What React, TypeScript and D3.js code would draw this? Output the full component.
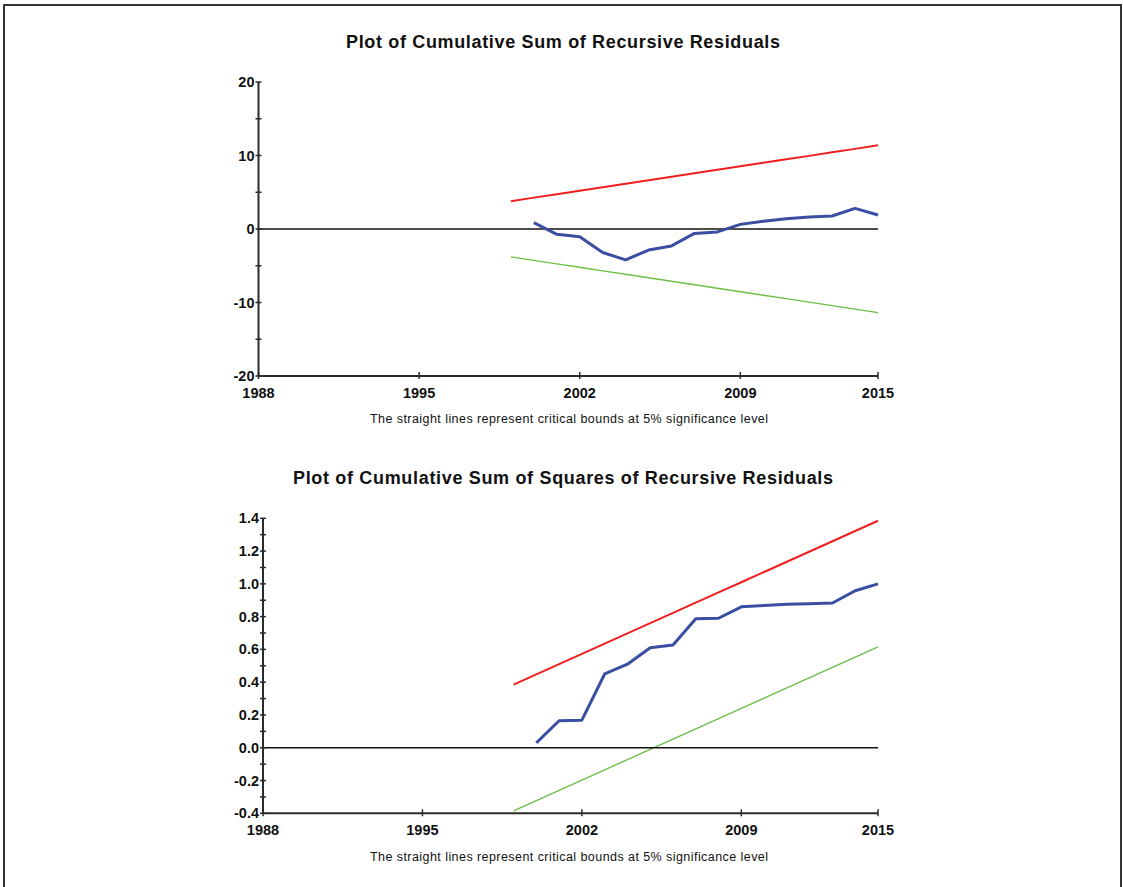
import React from "react";
import * as d3 from "d3";

// Years covered by the recursive estimates
const years = [1999, 2000, 2001, 2002, 2003, 2004, 2005, 2006, 2007, 2008, 2009, 2010, 2011, 2012, 2013, 2014, 2015];
const residualYears = years.slice(1);

// CUSUM statistic and its 5% bounds
const cusum = [0.86, -0.73, -1.04, -3.2, -4.2, -2.86, -2.3, -0.6, -0.4, 0.63, 1.04, 1.4, 1.63, 1.77, 2.8, 1.9];
const cusumUpper = [3.79, 4.27, 4.74, 5.21, 5.69, 6.16, 6.64, 7.11, 7.58, 8.06, 8.53, 9.01, 9.48, 9.95, 10.43, 10.9, 11.38];
const cusumLower = [-3.79, -4.27, -4.74, -5.21, -5.69, -6.16, -6.64, -7.11, -7.58, -8.06, -8.53, -9.01, -9.48, -9.95, -10.43, -10.9, -11.38];

// CUSUM of squares statistic and its 5% bounds
const cusumSq = [0.03, 0.165, 0.168, 0.45, 0.51, 0.61, 0.627, 0.787, 0.79, 0.86, 0.868, 0.875, 0.879, 0.883, 0.958, 1.0];
const cusumSqUpper = [0.385, 0.4475, 0.51, 0.5725, 0.635, 0.6975, 0.76, 0.8225, 0.885, 0.9475, 1.01, 1.0725, 1.135, 1.1975, 1.26, 1.3225, 1.385];
const cusumSqLower = [-0.385, -0.3225, -0.26, -0.1975, -0.135, -0.0725, -0.01, 0.0525, 0.115, 0.1775, 0.24, 0.3025, 0.365, 0.4275, 0.49, 0.5525, 0.615];

// Axis ticks
const xTicks = [1988, 1995, 2002, 2009, 2015];
const cusumTicks = [-20, -10, 0, 10, 20];
const cusumMinor = [-20, -15, -10, -5, 0, 5, 10, 15, 20];
const sqTicks = [-0.4, -0.2, 0.0, 0.2, 0.4, 0.6, 0.8, 1.0, 1.2, 1.4];
const sqMinor = [-0.4, -0.3, -0.2, -0.1, 0.0, 0.1, 0.2, 0.3, 0.4, 0.5, 0.6, 0.7, 0.8, 0.9, 1.0, 1.1, 1.2, 1.3, 1.4];

const FONT = "Arial, 'Liberation Sans', Helvetica, sans-serif";
const AXIS = "#2b2b2b";
const BLUE = "#3a4ea2";
const RED = "#f01f1f";
const GREEN = "#6cc046";

// plain hyphen for negatives, as in the printed output
const hyphen = (s: string) => s.replace("\u2212", "-");

type PanelProps = {
  title: string;
  titleY: number;
  titleWidth: number;
  noteY: number;
  x: d3.ScaleLinear<number, number>;
  y: d3.ScaleLinear<number, number>;
  yTicks: number[];
  yMinor: number[];
  fmt: (v: number) => string;
  stat: number[];
  upper: number[];
  lower: number[];
};

function Panel({ title, titleY, titleWidth, noteY, x, y, yTicks, yMinor, fmt, stat, upper, lower }: PanelProps) {
  const line = d3
    .line<[number, number]>()
    .x((d) => x(d[0]))
    .y((d) => y(d[1]));
  const [x0, x1] = x.range();
  const [yb, yt] = y.range();
  const pair = (xs: number[], vs: number[]) => xs.map((t, i) => [t, vs[i]] as [number, number]);
  return (
    <g>
      <text
        x={563}
        y={titleY}
        textAnchor="middle"
        fontFamily={FONT}
        fontWeight="bold"
        fontSize={18}
        fill="#111"
        textLength={titleWidth}
        lengthAdjust="spacing"
      >
        {title}
      </text>
      {/* critical bounds */}
      <path d={line(pair(years, upper)) || ""} fill="none" stroke={RED} strokeWidth={2} />
      <path d={line(pair(years, lower)) || ""} fill="none" stroke={GREEN} strokeWidth={1.4} />
      {/* zero reference */}
      <line x1={x0} x2={x1} y1={y(0)} y2={y(0)} stroke="#111" strokeWidth={1.6} />
      {/* statistic */}
      <path d={line(pair(residualYears, stat)) || ""} fill="none" stroke={BLUE} strokeWidth={3} strokeLinejoin="round" />
      {/* axes */}
      <line x1={x0} x2={x0} y1={yb} y2={yt} stroke={AXIS} strokeWidth={2} />
      <line x1={x0} x2={x1} y1={yb} y2={yb} stroke={AXIS} strokeWidth={2} />
      {yMinor.map((v) => (
        <line key={"ym" + v} x1={x0 - 3} x2={x0 + 3} y1={y(v)} y2={y(v)} stroke={AXIS} strokeWidth={1.5} />
      ))}
      {yTicks.map((v) => (
        <text key={"yt" + v} x={x0 - 4} y={y(v) + 5} textAnchor="end" fontFamily={FONT} fontWeight="bold" fontSize={14.5} fill="#111">
          {hyphen(fmt(v))}
        </text>
      ))}
      {xTicks.map((v) => (
        <g key={"xt" + v}>
          <line x1={x(v)} x2={x(v)} y1={yb - 4} y2={yb + 3} stroke={AXIS} strokeWidth={1.5} />
          <text x={x(v)} y={yb + 21.5} textAnchor="middle" fontFamily={FONT} fontWeight="bold" fontSize={14.5} fill="#111">
            {v}
          </text>
        </g>
      ))}
      <text
        x={569}
        y={noteY}
        textAnchor="middle"
        fontFamily={FONT}
        fontSize={12.5}
        fill="#111"
        textLength={398}
        lengthAdjust="spacing"
      >
        The straight lines represent critical bounds at 5% significance level
      </text>
    </g>
  );
}

export default function App() {
  const xTop = d3.scaleLinear().domain([1988, 2015]).range([258.5, 878]);
  const yTop = d3.scaleLinear().domain([-20, 20]).range([376, 82]);
  const xBot = d3.scaleLinear().domain([1988, 2015]).range([263, 878]);
  const yBot = d3.scaleLinear().domain([-0.4, 1.4]).range([813.3, 518.3]);

  return (
    <svg width={1123} height={887} style={{ position: "absolute", left: 0, top: 0, background: "#fff" }}>
      <rect width={1123} height={887} fill="#fff" />
      <path d="M4,887 V5 H1121 V887" fill="none" stroke="#333" strokeWidth={2} />
      <Panel
        title="Plot of Cumulative Sum of Recursive Residuals"
        titleY={48}
        titleWidth={434}
        noteY={423}
        x={xTop}
        y={yTop}
        yTicks={cusumTicks}
        yMinor={cusumMinor}
        fmt={(v) => d3.format("d")(v)}
        stat={cusum}
        upper={cusumUpper}
        lower={cusumLower}
      />
      <Panel
        title="Plot of Cumulative Sum of Squares of Recursive Residuals"
        titleY={484}
        titleWidth={540}
        noteY={861}
        x={xBot}
        y={yBot}
        yTicks={sqTicks}
        yMinor={sqMinor}
        fmt={(v) => d3.format(".1f")(v)}
        stat={cusumSq}
        upper={cusumSqUpper}
        lower={cusumSqLower}
      />
    </svg>
  );
}
